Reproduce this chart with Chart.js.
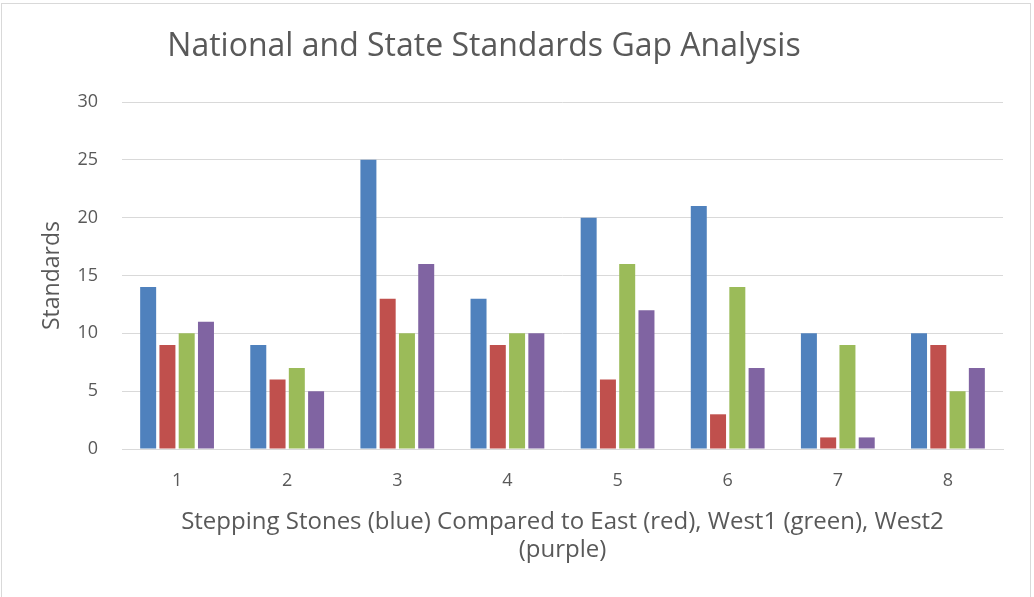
<!DOCTYPE html>
<html>
<head>
<meta charset="utf-8">
<script src="https://cdn.jsdelivr.net/npm/chart.js@4/dist/chart.umd.min.js"></script>
<style>
  html, body { margin: 0; padding: 0; background: #fff; }
  #wrap { position: absolute; left: 0; top: 0; width: 1034px; height: 597px; }
  #frame { position: absolute; left: 1px; top: 3px; width: 1030px; height: 600px; border: 1px solid #d9d9d9; box-sizing: border-box; pointer-events: none; }
</style>
</head>
<body>
<div id="wrap"><canvas id="chart" width="1034" height="597"></canvas></div>
<div id="frame"></div>
<script>
// --- Data ---
const categories = ['1', '2', '3', '4', '5', '6', '7', '8'];
const steppingStones = [14, 9, 25, 13, 20, 21, 10, 10];
const east = [9, 6, 13, 9, 6, 3, 1, 9];
const west1 = [10, 7, 10, 10, 16, 14, 9, 5];
const west2 = [11, 5, 16, 10, 12, 7, 1, 7];

const chartTitle = 'National and State Standards Gap Analysis';
const xTitle = ['Stepping Stones (blue) Compared to East (red), West1 (green), West2', '(purple)'];
const yTitle = 'Standards';

const FONT = '"Open Sans"';
const TEXT = '#595959';

// title drawn left of centre like the original
const titlePlugin = {
    id: 'offsetTitle',
    afterDraw(chart) {
        const ctx = chart.ctx;
        ctx.save();
        ctx.font = '32px ' + FONT;
        ctx.fillStyle = TEXT;
        ctx.textAlign = 'center';
        ctx.textBaseline = 'middle';
        ctx.fillText(chartTitle, 484, 47);
        ctx.restore();
    }
};

function ds(label, data, color) {
    return { label: label, data: data, backgroundColor: color, borderWidth: 0 };
}

new Chart(document.getElementById('chart'), {
    type: 'bar',
    data: {
        labels: categories,
        datasets: [
            ds('Stepping Stones', steppingStones, '#4F81BD'),
            ds('East', east, '#C0504D'),
            ds('West1', west1, '#9BBB59'),
            ds('West2', west2, '#8064A2')
        ]
    },
    options: {
        responsive: false,
        animation: false,
        datasets: { bar: { categoryPercentage: 0.7, barPercentage: 0.83 } },
        layout: { padding: { left: 20, right: 31, top: 102, bottom: 0 } },
        plugins: {
            legend: { display: false },
            tooltip: { enabled: false }
        },
        scales: {
            x: {
                grid: { display: false, drawTicks: false },
                border: { display: true, color: '#d9d9d9', width: 1 },
                ticks: { color: TEXT, font: { family: FONT, size: 18 }, padding: 21 },
                title: {
                    display: true, text: xTitle, color: TEXT,
                    font: { family: FONT, size: 24, lineHeight: 28 / 24 },
                    padding: { top: 0, bottom: 33 }
                },
                afterFit(scale) { scale.height = 597 - 449; }
            },
            y: {
                min: 0, max: 30,
                ticks: { stepSize: 5, color: TEXT, font: { family: FONT, size: 18 }, padding: 24 },
                grid: { color: '#d9d9d9', lineWidth: 1, drawTicks: false },
                border: { display: false },
                title: {
                    display: true, text: yTitle, color: TEXT,
                    font: { family: FONT, size: 23, lineHeight: 1.2 },
                    padding: { top: 19, bottom: 0 }
                },
                afterFit(scale) { scale.width = 122 - 20; }
            }
        }
    },
    plugins: [titlePlugin]
});
</script>
</body>
</html>
